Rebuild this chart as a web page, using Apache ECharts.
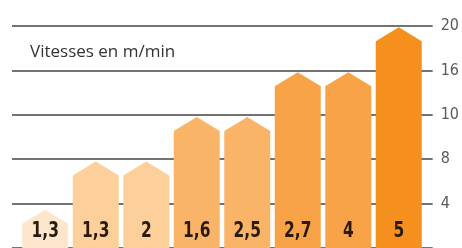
<!DOCTYPE html>
<html>
<head>
<meta charset="utf-8">
<script src="https://cdn.jsdelivr.net/npm/echarts@6/dist/echarts.min.js"></script>
<style>html,body{margin:0;padding:0;background:#fff}#c{width:462px;height:248px}</style>
</head>
<body>
<div id="c"></div>
<script>
// Data
const speedLabels = ['1,3', '1,3', '2', '1,6', '2,5', '2,7', '4', '5'];
const barLevels = [0.86, 1.95, 1.95, 2.95, 2.95, 3.96, 3.96, 4.97];
const yTickLabels = ['', '4', '8', '10', '16', '20'];
const chartTitle = 'Vitesses en m/min';

// Style
const palette = ['#fde6cc', '#fccf9b', '#fccf9b', '#fab468', '#fab468', '#f8a347', '#f8a347', '#f5901e'];
const condensed = '"DejaVu Sans Condensed", "DejaVu Sans", sans-serif';

const chart = echarts.init(document.getElementById('c'), null, {renderer: 'canvas'});
const categories = speedLabels.map((s, i) => 'b' + i);

chart.setOption({
  animation: false,
  title: {
    text: chartTitle, left: 25, top: 39,
    textStyle: {fontFamily: 'Open Sans', fontSize: 17, fontWeight: 'normal', color: '#333'}
  },
  grid: [
    {left: 12, right: 29, top: 26, bottom: -2, containLabel: false},
    {left: 20, right: 38, top: 26, bottom: -2, containLabel: false}
  ],
  xAxis: [
    {gridIndex: 0, type: 'value', min: 0, max: 1, show: false},
    {gridIndex: 1, type: 'category', data: categories, show: false, boundaryGap: true}
  ],
  yAxis: [
    {
      gridIndex: 0, type: 'value', min: 0, max: 5, interval: 1, position: 'right',
      axisLine: {show: false}, axisTick: {show: false},
      splitLine: {show: true, lineStyle: {color: '#444', width: 1.6}},
      axisLabel: {
        margin: 8, color: '#5a5a5a', fontFamily: condensed, fontSize: 16,
        formatter: v => yTickLabels[Math.round(v)] || ''
      }
    },
    {gridIndex: 1, type: 'value', min: 0, max: 5, show: false, splitLine: {show: false}}
  ],
  series: [{
    type: 'custom',
    xAxisIndex: 1, yAxisIndex: 1,
    data: barLevels.map((v, i) => [i, v]),
    z: 1,
    renderItem: function (params, api) {
      const i = api.value(0);
      const top = api.coord([i, api.value(1)]);
      const base = api.coord([i, 0]);
      const band = api.size([1, 0])[0];
      const w = band - 4.5;
      const roof = 14;
      const x = top[0];
      return {
        type: 'group',
        children: [
          {
            type: 'polygon',
            shape: {points: [
              [x - w / 2, base[1]], [x - w / 2, top[1] + roof], [x, top[1]],
              [x + w / 2, top[1] + roof], [x + w / 2, base[1]]
            ]},
            style: {fill: palette[i]}
          },
          {
            type: 'text',
            x: x, y: 231, scaleX: 0.78,
            style: {
              text: speedLabels[i], x: 0, y: 0,
              align: 'center', verticalAlign: 'middle',
              fill: '#2b1a10', fontWeight: 'bold', fontSize: 22, fontFamily: condensed
            }
          }
        ]
      };
    }
  }]
});
</script>
</body>
</html>
